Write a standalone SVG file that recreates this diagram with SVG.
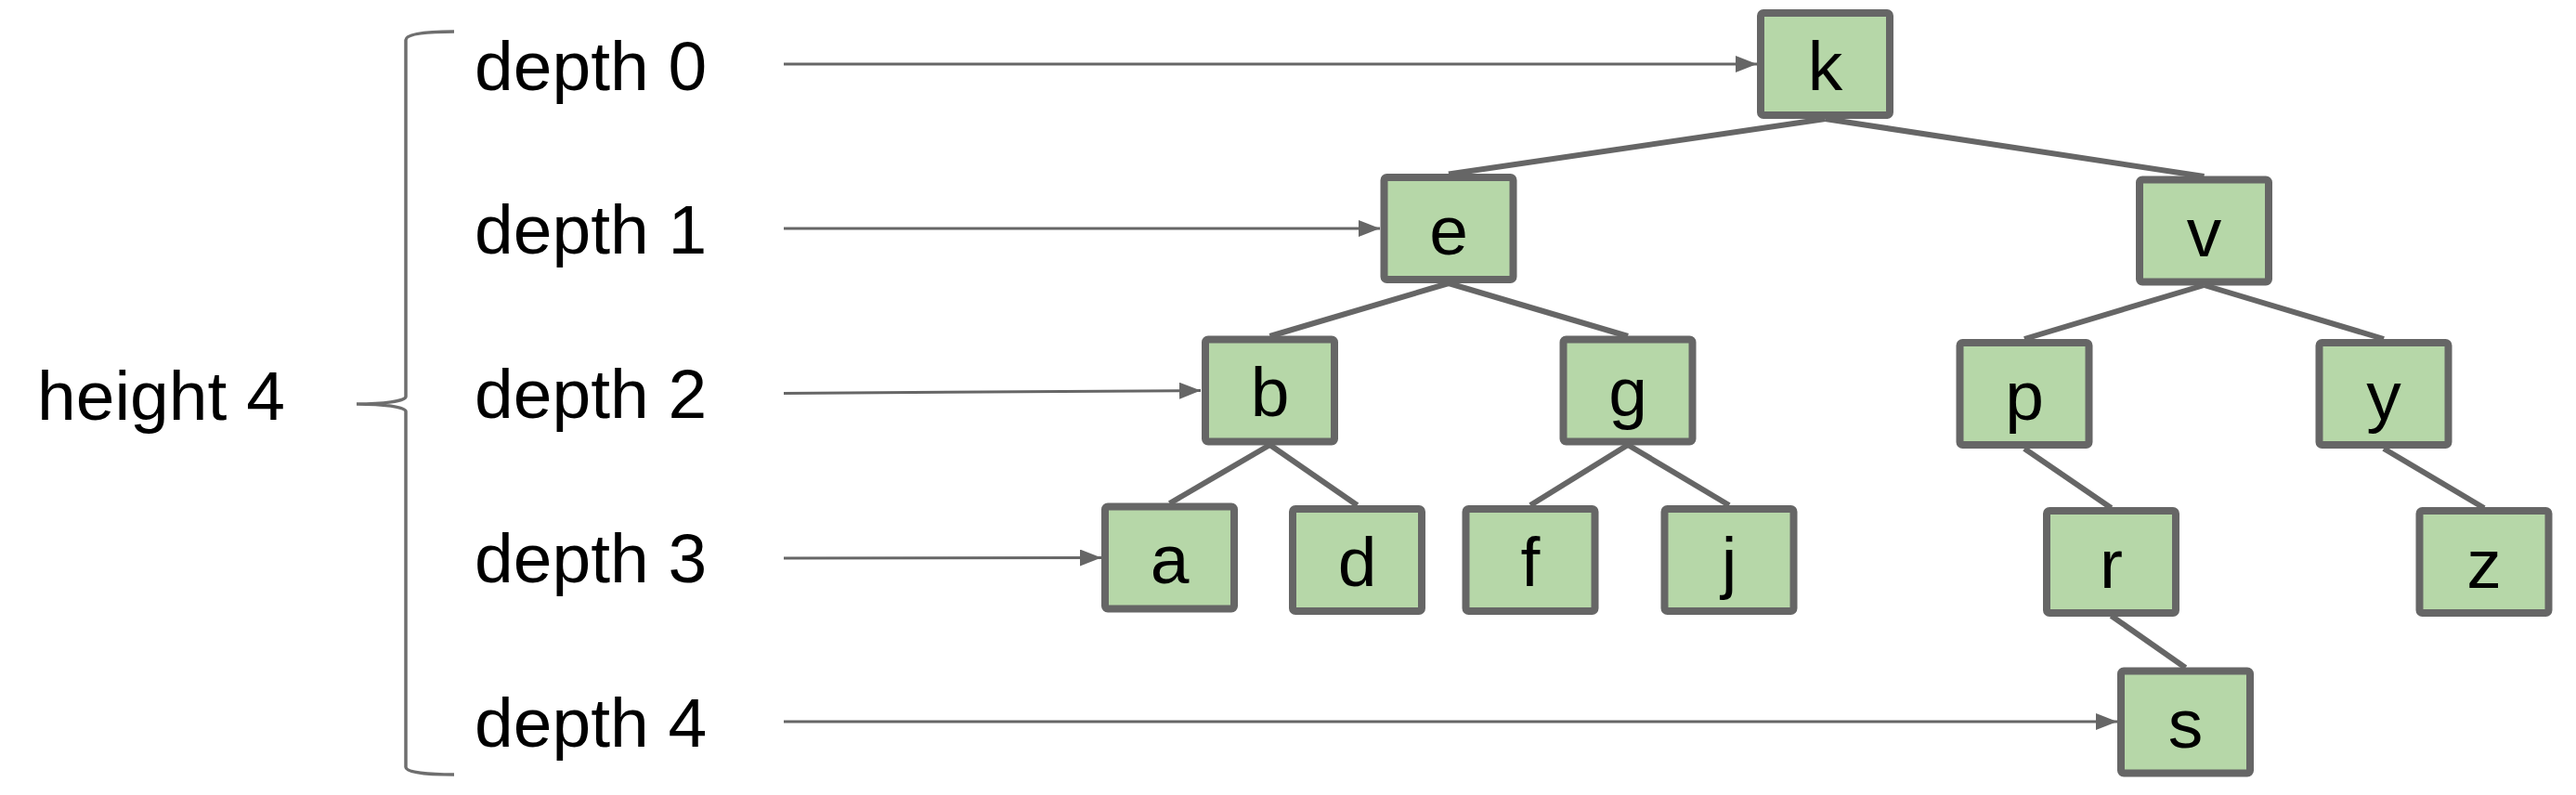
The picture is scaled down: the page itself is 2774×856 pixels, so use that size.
<svg xmlns="http://www.w3.org/2000/svg" width="2774" height="856" viewBox="0 0 2774 856">
<style>
  .lbl{font-family:"Liberation Sans",Arial,sans-serif;font-size:75px;fill:#000}
  .node rect{fill:#b6d7a8;stroke:#666666;stroke-width:8}
  .node text{font-family:"Liberation Sans",Arial,sans-serif;font-size:75px;fill:#000;text-anchor:middle}
  .edge{stroke:#666666;stroke-width:6;fill:none}
  .arrow{stroke:#666666;stroke-width:3;fill:none;marker-end:url(#ah)}
  .brace{stroke:#6e6e6e;stroke-width:3.5;fill:none}
</style>
<defs>
  <marker id="ah" markerUnits="userSpaceOnUse" markerWidth="24" markerHeight="18" refX="23" refY="9" orient="auto">
    <path d="M0,0 L23,9 L0,18 z" fill="#666666"/>
  </marker>
</defs>
<rect width="2774" height="856" fill="#ffffff"/>
<g id="labels">
  <text class="lbl" x="40" y="452">height 4</text>
  <text class="lbl" x="511" y="97">depth 0</text>
  <text class="lbl" x="511" y="273">depth 1</text>
  <text class="lbl" x="511" y="450">depth 2</text>
  <text class="lbl" x="511" y="627">depth 3</text>
  <text class="lbl" x="511" y="804">depth 4</text>
</g>
<g id="brace">
  <path class="brace" d="M489,34 C462,34 437,36 437,43 L437,427 C437,432 412,435 384,435 C412,435 437,438 437,443 L437,826 C437,832 462,834 489,834"/>
</g>
<g id="connectors">
  <line class="arrow" x1="844" y1="69" x2="1892" y2="69"/>
  <line class="arrow" x1="844" y1="246" x2="1486" y2="246"/>
  <line class="arrow" x1="844" y1="423.5" x2="1293" y2="420.5"/>
  <line class="arrow" x1="844" y1="601" x2="1186" y2="600.5"/>
  <line class="arrow" x1="844" y1="777" x2="2280" y2="777"/>
  <line class="edge" x1="1965.5" y1="128" x2="1560" y2="187.5"/>
  <line class="edge" x1="1965.5" y1="128" x2="2373.5" y2="190"/>
  <line class="edge" x1="1560" y1="305" x2="1367.5" y2="362"/>
  <line class="edge" x1="1560" y1="305" x2="1753" y2="362"/>
  <line class="edge" x1="2373.5" y1="307" x2="2180" y2="365"/>
  <line class="edge" x1="2373.5" y1="307" x2="2567" y2="365"/>
  <line class="edge" x1="1367.5" y1="479" x2="1259.5" y2="542"/>
  <line class="edge" x1="1367.5" y1="479" x2="1461.5" y2="544"/>
  <line class="edge" x1="1753" y1="479" x2="1648" y2="544"/>
  <line class="edge" x1="1753" y1="479" x2="1862" y2="544"/>
  <line class="edge" x1="2180" y1="483" x2="2273.5" y2="547"/>
  <line class="edge" x1="2567" y1="483" x2="2675" y2="547"/>
  <line class="edge" x1="2273.5" y1="663" x2="2353.5" y2="719"/>
</g>
<g id="node-k" class="node"><rect x="1896" y="14" width="139" height="110" rx="3"/><text x="1965.5" y="97">k</text></g>
<g id="node-e" class="node"><rect x="1490.5" y="191" width="139" height="110" rx="3"/><text x="1560" y="273.5">e</text></g>
<g id="node-v" class="node"><rect x="2304" y="193.5" width="139" height="110" rx="3"/><text x="2373.5" y="276">v</text></g>
<g id="node-b" class="node"><rect x="1298" y="365.5" width="139" height="110" rx="3"/><text x="1367.5" y="448">b</text></g>
<g id="node-g" class="node"><rect x="1683.5" y="365.5" width="139" height="110" rx="3"/><text x="1753" y="448">g</text></g>
<g id="node-p" class="node"><rect x="2110.5" y="369" width="139" height="110" rx="3"/><text x="2180" y="451.5">p</text></g>
<g id="node-y" class="node"><rect x="2497.5" y="369" width="139" height="110" rx="3"/><text x="2567" y="451.5">y</text></g>
<g id="node-a" class="node"><rect x="1190" y="545.5" width="139" height="110" rx="3"/><text x="1259.5" y="628">a</text></g>
<g id="node-d" class="node"><rect x="1392" y="548" width="139" height="110" rx="3"/><text x="1461.5" y="630.5">d</text></g>
<g id="node-f" class="node"><rect x="1578.5" y="548" width="139" height="110" rx="3"/><text x="1648" y="630.5">f</text></g>
<g id="node-j" class="node"><rect x="1792.5" y="548" width="139" height="110" rx="3"/><text x="1862" y="630.5">j</text></g>
<g id="node-r" class="node"><rect x="2204" y="550" width="139" height="110" rx="3"/><text x="2273.5" y="632.5">r</text></g>
<g id="node-z" class="node"><rect x="2605.5" y="550" width="139" height="110" rx="3"/><text x="2675" y="632.5">z</text></g>
<g id="node-s" class="node"><rect x="2284" y="722.5" width="139" height="110" rx="3"/><text x="2353.5" y="805">s</text></g>
</svg>
